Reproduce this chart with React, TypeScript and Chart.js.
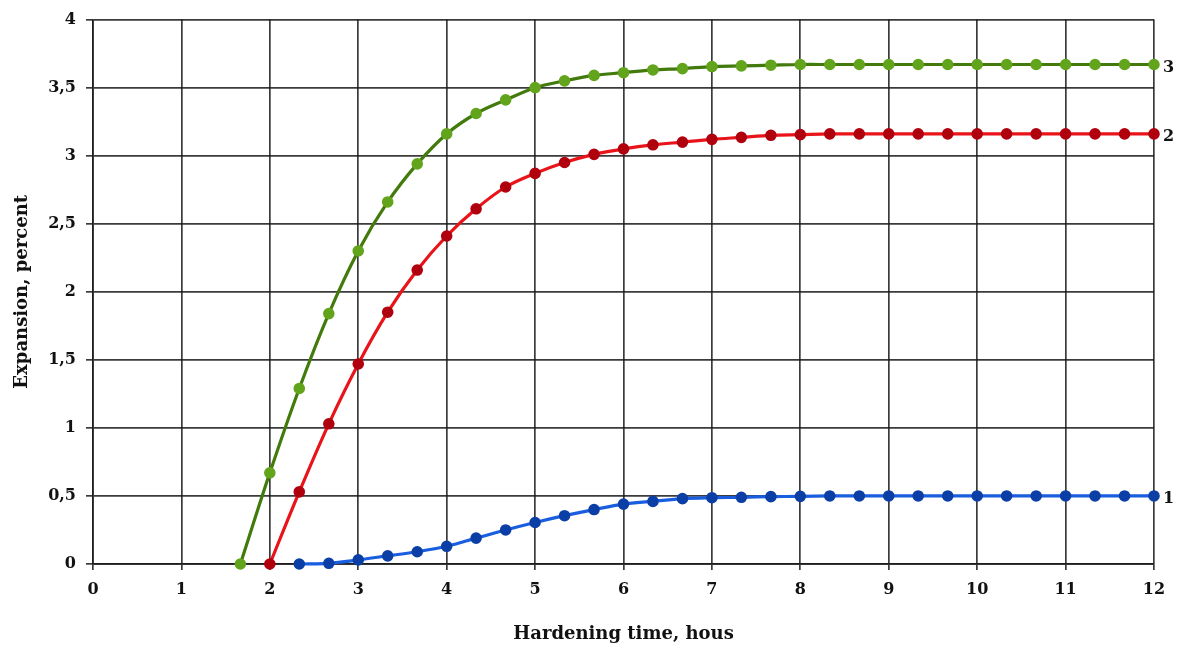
import React, { useEffect, useRef } from "react";
import { Chart, registerables } from "chart.js";

Chart.register(...registerables);

// Hardening time (hours), sampled every 1/3 hour
const timeHours = [
  1.667, 2, 2.333, 2.667, 3, 3.333, 3.667, 4, 4.333, 4.667, 5, 5.333, 5.667, 6,
  6.333, 6.667, 7, 7.333, 7.667, 8, 8.333, 8.667, 9, 9.333, 9.667, 10, 10.333,
  10.667, 11, 11.333, 11.667, 12,
];

// Expansion, percent
const series3 = [
  0, 0.67, 1.29, 1.84, 2.3, 2.66, 2.94, 3.16, 3.31, 3.41, 3.5, 3.55, 3.59, 3.61,
  3.63, 3.64, 3.655, 3.66, 3.665, 3.67, 3.67, 3.67, 3.67, 3.67, 3.67, 3.67, 3.67,
  3.67, 3.67, 3.67, 3.67, 3.67,
];
const series2 = [
  null, 0, 0.53, 1.03, 1.47, 1.85, 2.16, 2.41, 2.61, 2.77, 2.87, 2.95, 3.01, 3.05,
  3.08, 3.1, 3.12, 3.135, 3.15, 3.155, 3.16, 3.16, 3.16, 3.16, 3.16, 3.16, 3.16,
  3.16, 3.16, 3.16, 3.16, 3.16,
];
const series1 = [
  null, null, 0, 0.005, 0.03, 0.06, 0.09, 0.13, 0.19, 0.25, 0.305, 0.355, 0.4,
  0.44, 0.46, 0.48, 0.487, 0.49, 0.495, 0.497, 0.5, 0.5, 0.5, 0.5, 0.5, 0.5, 0.5,
  0.5, 0.5, 0.5, 0.5, 0.5,
];

const seriesLabels = ["1", "2", "3"];
const xTitle = "Hardening time, hous";
const yTitle = "Expansion, percent";

const FONT = '"DejaVu Serif", "Liberation Serif", serif';

function toPoints(vals: (number | null)[]) {
  const out: { x: number; y: number }[] = [];
  vals.forEach((v, i) => {
    if (v !== null) out.push({ x: timeHours[i], y: v });
  });
  return out;
}

const endLabels = {
  id: "endLabels",
  afterDatasetsDraw(chart: any) {
    const ctx = chart.ctx;
    chart.data.datasets.forEach((ds: any, i: number) => {
      const meta = chart.getDatasetMeta(i);
      const pt = meta.data[meta.data.length - 1];
      if (!pt) return;
      ctx.save();
      ctx.font = `bold 16px ${FONT}`;
      ctx.fillStyle = "#111";
      ctx.textBaseline = "middle";
      ctx.textAlign = "left";
      ctx.fillText(ds.label, pt.x + 9, pt.y + 3);
      ctx.restore();
    });
  },
};

export default function App() {
  const ref = useRef<HTMLCanvasElement | null>(null);

  useEffect(() => {
    if (!ref.current) return;
    const gridColor = "rgba(25,25,25,0.85)";
    const common = {
      borderWidth: 3.2,
      pointRadius: 4.2,
      tension: 0.35,
      clip: false as const,
    };
    const chart = new Chart(ref.current, {
      type: "line",
      data: {
        datasets: [
          {
            label: seriesLabels[0],
            data: toPoints(series1),
            borderColor: "#1a5ee0",
            backgroundColor: "#0b3fa6",
            pointBackgroundColor: "#0b3fa6",
            pointBorderColor: "#0b3fa6",
            ...common,
          },
          {
            label: seriesLabels[1],
            data: toPoints(series2),
            borderColor: "#e8141a",
            backgroundColor: "#b0000e",
            pointBackgroundColor: "#b0000e",
            pointBorderColor: "#b0000e",
            ...common,
          },
          {
            label: seriesLabels[2],
            data: toPoints(series3),
            borderColor: "#427a0c",
            backgroundColor: "#62a41c",
            pointBackgroundColor: "#62a41c",
            pointBorderColor: "#62a41c",
            ...common,
          },
        ],
      },
      options: {
        animation: false,
        responsive: false,
        maintainAspectRatio: false,
        layout: { padding: { top: 16, right: 30, bottom: 0, left: 0 } },
        plugins: {
          legend: { display: false },
          tooltip: { enabled: false },
        },
        scales: {
          x: {
            type: "linear",
            min: 0,
            max: 12,
            ticks: {
              stepSize: 1,
              color: "#111",
              padding: 10,
              font: { family: FONT, size: 16, weight: "bold" },
            },
            grid: { color: gridColor, lineWidth: 1.7, tickLength: 6 },
            border: { color: gridColor, width: 1.7 },
            title: {
              display: true,
              text: xTitle,
              color: "#111",
              font: { family: FONT, size: 18, weight: "bold" },
              padding: { top: 3, bottom: 0 },
            },
            afterFit: (scale: any) => {
              scale.height = 81;
            },
          },
          y: {
            type: "linear",
            min: 0,
            max: 4,
            ticks: {
              stepSize: 0.5,
              color: "#111",
              padding: 10,
              font: { family: FONT, size: 16, weight: "bold" },
              callback: (v: any) => String(v).replace(".", ","),
            },
            grid: { color: gridColor, lineWidth: 1.7, tickLength: 7 },
            border: { color: gridColor, width: 1.7 },
            title: {
              display: true,
              text: yTitle,
              color: "#111",
              font: { family: FONT, size: 18, weight: "bold" },
              padding: { top: 12, bottom: 0 },
            },
            afterFit: (scale: any) => {
              scale.width = 93;
            },
          },
        },
      },
      plugins: [endLabels],
    });
    return () => chart.destroy();
  }, []);

  return (
    <div style={{ position: "fixed", left: 0, top: 0, width: 1184, height: 645, background: "#fff" }}>
      <canvas ref={ref} width={1184} height={645} style={{ width: 1184, height: 645, display: "block" }} />
    </div>
  );
}
